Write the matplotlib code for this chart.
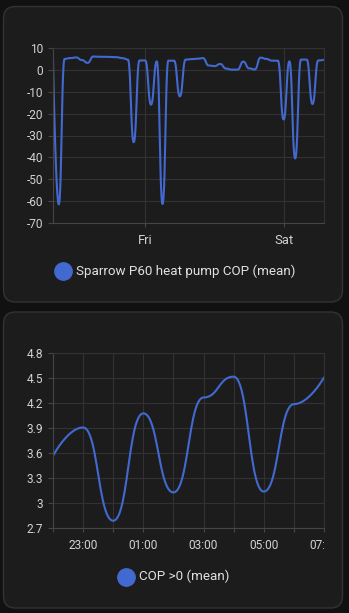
import numpy as np
import matplotlib
matplotlib.use('Agg')
from matplotlib import pyplot as plt
from matplotlib.patches import FancyBboxPatch
from matplotlib.lines import Line2D
from matplotlib.transforms import IdentityTransform, Bbox, TransformedBbox

plt.rcParams['font.family'] = ['Roboto', 'DejaVu Sans']
plt.rcParams['axes.unicode_minus'] = False

# hourly COP means, Thu 08:00 -> Sat 07:00 (x = hours since Thu 08:00)
cop_hours = list(range(48))
cop_mean = [4.5, -61.5, 5.0, 5.4, 5.7, 4.5, 3.2, 6.1, 6.0, 6.0,
            5.9, 5.8, 5.4, 4.7, -33.1, 4.3, 4.3, -15.9, 3.9, -61.3,
            4.2, 4.2, -12.1, 4.7, 4.9, 5.1, 5.4, 2.0, 1.7, 2.7,
            0.6, 0.1, 0.1, 3.8, 0.7, 0.2, 5.6, 5.0, 4.2, 4.2,
            -22.7, 3.9, -40.5, 4.7, 4.7, -15.6, 4.3, 4.6]
cop_name = 'Sparrow P60 heat pump COP (mean)'
day_ticks = [16, 40]
day_labels = ['Fri', 'Sat']
cop_yticks = [10, 0, -10, -20, -30, -40, -50, -60, -70]

# positive-only COP, Fri 22:00 -> Sat 07:00 (x = hours since 22:00)
pos_hours = [0, 1, 2, 3, 4, 5, 6, 7, 8, 9]
pos_mean = [3.57, 3.91, 2.79, 4.08, 3.13, 4.27, 4.52, 3.14, 4.19, 4.51]
pos_name = 'COP >0 (mean)'
hour_ticks = [1, 3, 5, 7, 9]
hour_labels = ['23:00', '01:00', '03:00', '05:00', '07:00']
pos_yticks = [4.8, 4.5, 4.2, 3.9, 3.6, 3.3, 3.0, 2.7]
pos_ylabels = ['4.8', '4.5', '4.2', '3.9', '3.6', '3.3', '3', '2.7']

BG = '#111111'
CARD = '#1c1c1c'
EDGE = '#333333'
GRID = '#323232'
AXIS = '#454545'
LINE = '#4269d0'
TICK = '#d2d2d2'
TEXT = '#e1e1e1'
W, H = 349, 613


def smooth_line(x, y, smooth=0.5, n=24):
    # bezier through every point, control points kept level with the point
    # (monotone in x), first and last point keep their own position
    x = np.asarray(x, float)
    y = np.asarray(y, float)
    t = np.linspace(0, 1, n)[:, None]
    out = []
    for i in range(1, len(x)):
        dx = x[i] - x[i - 1]
        c0 = (x[i - 1], y[i - 1]) if i == 1 else (x[i - 1] + smooth * dx, y[i - 1])
        c1 = (x[i], y[i]) if i == len(x) - 1 else (x[i] - smooth * dx, y[i])
        p = np.array([(x[i - 1], y[i - 1]), c0, c1, (x[i], y[i])])
        out.append((1 - t)**3 * p[0] + 3 * (1 - t)**2 * t * p[1]
                   + 3 * (1 - t) * t**2 * p[2] + t**3 * p[3])
    pts = np.vstack(out)
    return pts[:, 0], pts[:, 1]


def card(fig, top, bottom, left=3.5, right=342.5):
    box = FancyBboxPatch((left, H - bottom), right - left, bottom - top,
                         boxstyle='round,pad=0,rounding_size=12',
                         transform=IdentityTransform(), facecolor=CARD,
                         edgecolor=EDGE, linewidth=1.0, zorder=-1)
    fig.add_artist(box)


def make_axes(fig, top, bottom, left=53, right=324):
    ax = fig.add_axes([left / W, 1 - bottom / H, (right - left) / W, (bottom - top) / H])
    ax.set_facecolor('none')
    for side in ['top', 'right']:
        ax.spines[side].set_color(GRID)
    for side in ['left', 'bottom']:
        ax.spines[side].set_color(AXIS)
    for sp in ax.spines.values():
        sp.set_linewidth(0.8)
    ax.tick_params(colors=AXIS, labelcolor=TICK, labelsize=8.6, width=0.8)
    ax.tick_params(axis='y', length=3.4, pad=3.5)
    ax.tick_params(axis='x', length=2.6, pad=5)
    ax.set_axisbelow(True)
    return ax


def legend(fig, x, y, label):
    fig.add_artist(Line2D([x / W], [1 - y / H], marker='o', markersize=12.5,
                          color=LINE, transform=fig.transFigure))
    fig.text((x + 13) / W, 1 - y / H, label, color=TEXT, fontsize=9.6,
             va='center', ha='left')


fig = plt.figure(figsize=(W / 100, H / 100), dpi=100, facecolor=BG)
card(fig, 6.5, 302)
card(fig, 312, 608)

# top: full COP history
ax1 = make_axes(fig, 48, 223)
hx, hy = smooth_line(cop_hours, cop_mean)
ax1.plot(hx, hy, color=LINE, lw=1.5, solid_capstyle='round')
ax1.set_xlim(cop_hours[0], cop_hours[-1])
ax1.set_ylim(-70, 10)
ax1.set_yticks(cop_yticks, [str(v) for v in cop_yticks])
ax1.set_xticks(day_ticks, day_labels)
ax1.tick_params(axis='x', labelsize=9.4)
ax1.grid(True, color=GRID, lw=0.8)
legend(fig, 63, 271, cop_name)

# bottom: COP > 0
ax2 = make_axes(fig, 353.3, 528.3)
px, py = smooth_line(pos_hours, pos_mean)
ax2.plot(px, py, color=LINE, lw=1.5, solid_capstyle='round')
ax2.set_xlim(pos_hours[0], pos_hours[-1])
ax2.set_ylim(2.7, 4.8)
ax2.set_yticks(pos_yticks, pos_ylabels)
ax2.set_xticks(hour_ticks, hour_labels)
ax2.set_xticks(pos_hours, minor=True)
ax2.tick_params(axis='x', which='minor', length=2.6, color=AXIS, width=0.8)
ax2.grid(True, which='both', color=GRID, lw=0.8)
legend(fig, 126, 576.7, pos_name)

# the last hour label runs past the canvas edge and gets cut off
clip = TransformedBbox(Bbox([[-0.2, -1.0], [1.0, 1.0]]), ax2.transAxes)
for lab in ax2.get_xticklabels():
    lab.set_clip_box(clip)
    lab.set_clip_on(True)

fig.savefig('out.png', dpi=100, facecolor=BG)
